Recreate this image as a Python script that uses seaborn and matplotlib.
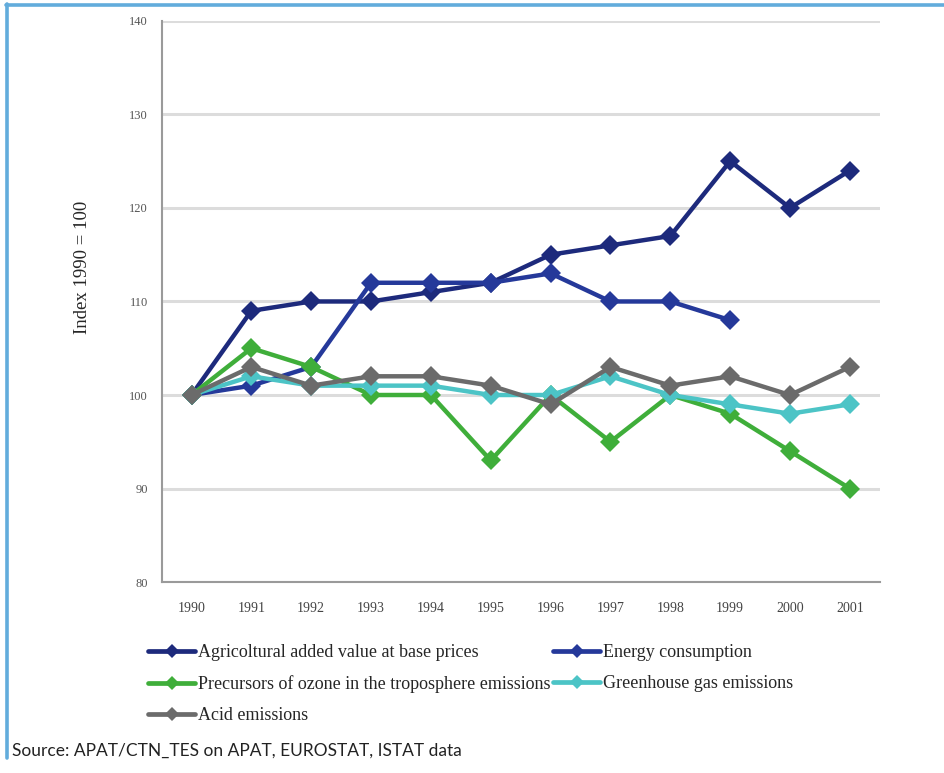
import pandas as pd
import numpy as np
import matplotlib.pyplot as plt
from matplotlib.lines import Line2D
import seaborn as sns

# --- Data (index 1990 = 100) ---
years = ['1990', '1991', '1992', '1993', '1994', '1995',
         '1996', '1997', '1998', '1999', '2000', '2001']

agri_value = [100, 109, 110, 110, 111, 112, 115, 116, 117, 125, 120, 124]
energy_cons = [100, 101, 103, 112, 112, 112, 113, 110, 110, 108, np.nan, np.nan]
ozone_prec = [100, 105, 103, 100, 100, 93, 100, 95, 100, 98, 94, 90]
ghg_emis = [100, 102, 101, 101, 101, 100, 100, 102, 100, 99, 98, 99]
acid_emis = [100, 103, 101, 102, 102, 101, 99, 103, 101, 102, 100, 103]

series_names = [
    "Agricoltural added value at base prices",
    "Energy consumption",
    "Precursors of ozone in the troposphere emissions",
    "Greenhouse gas emissions",
    "Acid emissions",
]
series_values = [agri_value, energy_cons, ozone_prec, ghg_emis, acid_emis]
series_colors = ['#1d2a7c', '#25399a', '#3fae3a', '#4cc4c6', '#6b6b6b']

y_ticks = [80, 90, 100, 110, 120, 130, 140]

# --- Long-form table ---
rows = []
for name, vals in zip(series_names, series_values):
    for yr, v in zip(years, vals):
        rows.append({'Year': yr, 'Series': name, 'Index': v})
df = pd.DataFrame(rows)
df['x'] = df['Year'].map({y: i for i, y in enumerate(years)})

# --- Figure ---
sns.set_style("white")
plt.rcParams['font.family'] = ['Liberation Serif', 'DejaVu Serif']

fig = plt.figure(figsize=(9.45, 7.73), dpi=100)
ax = fig.add_axes([0.171, 0.247, 0.76, 0.726])

palette = dict(zip(series_names, series_colors))
sns.lineplot(
    data=df.dropna(), x='x', y='Index', hue='Series', hue_order=series_names,
    palette=palette, marker='D', markersize=10, markeredgewidth=0,
    linewidth=3.2, ax=ax, legend=False, zorder=3
)

ax.set_xlim(-0.5, len(years) - 0.5)
ax.set_ylim(80, 140)
ax.set_yticks(y_ticks)
ax.set_yticklabels([str(t) for t in y_ticks], fontsize=9, color='#555555')
ax.set_xticks(range(len(years)))
ax.set_xticklabels(years, fontsize=10, color='#444444')
ax.set_xticks(np.arange(-0.5, len(years), 1.0), minor=True)
ax.tick_params(axis='x', which='major', length=0, pad=14)
ax.tick_params(axis='x', which='minor', length=4, color='#999999', direction='in')
ax.tick_params(axis='y', length=5, color='#999999', direction='out', pad=5)
ax.yaxis.grid(True, color='#dcdcdc', linewidth=2.2)
ax.set_axisbelow(True)

for side in ['top', 'right']:
    ax.spines[side].set_visible(False)
for side in ['left', 'bottom']:
    ax.spines[side].set_color('#9a9a9a')
    ax.spines[side].set_linewidth(1.5)

ax.set_xlabel('')
ax.set_ylabel('Index 1990 = 100', fontsize=13.5)
ax.yaxis.set_label_coords(-0.098, 0.56)

# --- Legend (two columns, row-wise order) ---
handles = {
    name: Line2D([0], [0], color=c, lw=3.4, marker='D', markersize=7, markeredgewidth=0)
    for name, c in zip(series_names, series_colors)
}
order = [series_names[0], series_names[2], series_names[4], series_names[1], series_names[3]]
fig.legend(
    [handles[n] for n in order], order,
    loc='upper left', bbox_to_anchor=(0.157, 0.167), ncol=2, frameon=False,
    fontsize=13, handlelength=2.6, handletextpad=0.15, columnspacing=0.15,
    labelspacing=0.78, borderaxespad=0, borderpad=0
)

# --- Frame and source ---
frame_color = '#62acdc'
fig.add_artist(Line2D([0.006, 1.0], [0.9935, 0.9935], color=frame_color, lw=2.6,
                      transform=fig.transFigure))
fig.add_artist(Line2D([0.0074, 0.0074], [0.9950, 0.02], color=frame_color, lw=2.6,
                      transform=fig.transFigure))
fig.text(0.013, 0.029, 'Source: APAT/CTN_TES on APAT, EUROSTAT, ISTAT data',
         fontsize=12.5, family=['Lato', 'DejaVu Sans'], color='#222222', va='center')

fig.savefig('out.png', dpi=100)
